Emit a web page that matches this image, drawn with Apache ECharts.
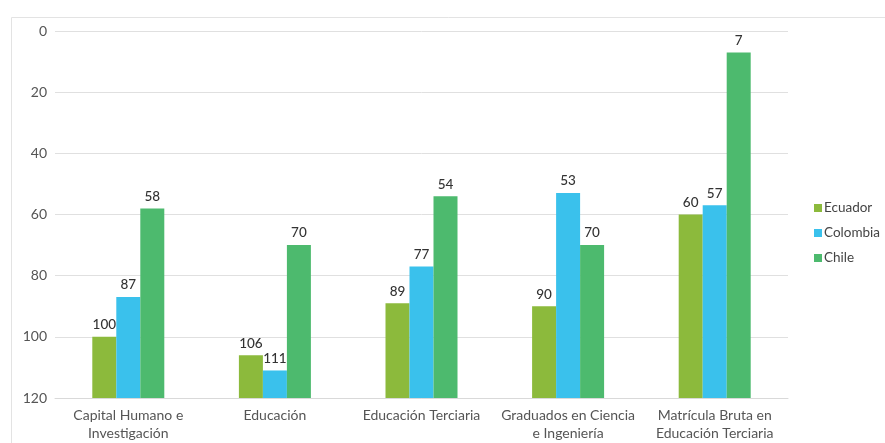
<!DOCTYPE html>
<html>
<head>
<meta charset="utf-8">
<script src="https://cdn.jsdelivr.net/npm/echarts@6/dist/echarts.min.js"></script>
<style>html,body{margin:0;padding:0;background:#fff}#c{width:885px;height:443px}</style>
</head>
<body>
<div id="c"></div>
<script>
const categories = ['Capital Humano e\nInvestigación', 'Educación', 'Educación Terciaria', 'Graduados en Ciencia\ne Ingeniería', 'Matrícula Bruta en\nEducación Terciaria'];
const ecuador = [100, 106, 89, 90, 60];
const colombia = [87, 111, 77, 53, 57];
const chile = [58, 70, 54, 70, 7];
const yTicks = [0, 20, 40, 60, 80, 100, 120];

const seriesDefs = [
  { name: 'Ecuador', data: ecuador, color: '#8cba3c' },
  { name: 'Colombia', data: colombia, color: '#3ac1ec' },
  { name: 'Chile', data: chile, color: '#4dba6e' }
];
const BAR_W = 24;
const Y_MAX = yTicks[yTicks.length - 1];
const FONT = 'Lato, "Open Sans", sans-serif';

const chart = echarts.init(document.getElementById('c'));
chart.setOption({
  animation: false,
  backgroundColor: '#fff',
  graphic: [{
    type: 'rect', left: 9, top: 15, shape: { width: 900, height: 500 },
    style: { fill: 'none', stroke: '#e3e3e3', lineWidth: 1 }, silent: true, z: -1
  }],
  grid: { left: 55, right: 97, top: 31, bottom: 45 },
  legend: {
    orient: 'vertical', left: 809, top: 195, itemGap: 9,
    itemWidth: 8, itemHeight: 8, icon: 'rect',
    textStyle: { fontFamily: FONT, fontSize: 13.5, color: '#444', padding: [0, 0, 0, -3], lineHeight: 16 },
    data: seriesDefs.map(s => ({ name: s.name, itemStyle: { color: s.color } }))
  },
  xAxis: {
    type: 'category', data: categories, position: 'bottom',
    axisLine: { onZero: false, lineStyle: { color: '#d9d9d9' } },
    axisTick: { show: false },
    axisLabel: { margin: 8, fontFamily: FONT, fontSize: 14, color: '#555', lineHeight: 18, interval: 0 }
  },
  yAxis: {
    type: 'value', inverse: true, min: 0, max: Y_MAX, interval: 20,
    axisLine: { show: false }, axisTick: { show: false },
    splitLine: { lineStyle: { color: '#e0e0e0' } },
    axisLabel: { margin: 8, fontFamily: FONT, fontSize: 14, color: '#555' }
  },
  series: seriesDefs.map((s, si) => ({
    type: 'custom', name: s.name,
    itemStyle: { color: s.color },
    encode: { x: 0, y: 1 },
    data: s.data.map((v, i) => [i, v]),
    renderItem: function (params, api) {
      const idx = api.value(0), v = api.value(1);
      const top = api.coord([idx, v]);
      const bottom = api.coord([idx, Y_MAX]);
      const cx = top[0] + (si - 1) * BAR_W;
      return {
        type: 'group',
        children: [
          { type: 'rect', shape: { x: cx - BAR_W / 2, y: top[1], width: BAR_W, height: bottom[1] - top[1] }, style: { fill: s.color } },
          { type: 'text', x: cx, y: top[1] - 5, style: { text: String(v), fill: '#333', fontSize: 13.5, fontWeight: 500, fontFamily: FONT, align: 'center', verticalAlign: 'bottom' } }
        ]
      };
    }
  }))
});
</script>
</body>
</html>
